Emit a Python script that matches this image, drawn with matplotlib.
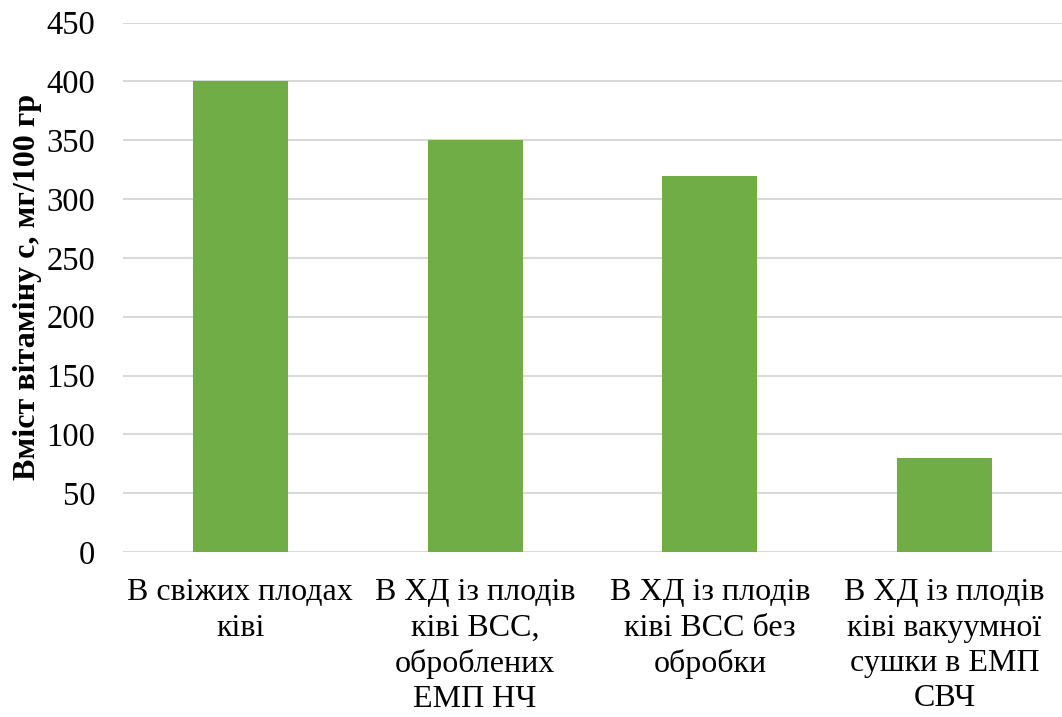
import matplotlib.pyplot as plt

plt.rcParams['font.family'] = ['Liberation Serif', 'DejaVu Serif']

categories = [
    "В свіжих плодах\nківі",
    "В ХД із плодів\nківі ВСС,\nоброблених\nЕМП НЧ",
    "В ХД із плодів\nківі ВСС без\nобробки",
    "В ХД із плодів\nківі вакуумної\nсушки в ЕМП\nСВЧ",
]
vitamin_c = [400, 350, 320, 80]
y_ticks = [0, 50, 100, 150, 200, 250, 300, 350, 400, 450]

fig = plt.figure(figsize=(10.62, 7.17), dpi=100)
ax = fig.add_axes([0.1158, 0.2301, 0.8842, 0.7384])

x = range(len(categories))
ax.bar(x, vitamin_c, width=0.404, color="#70AD47", zorder=3)

ax.set_xlim(-0.5, len(categories) - 0.5)
ax.set_ylim(0, 450)
ax.set_yticks(y_ticks)
ax.set_xticks(list(x))
ax.set_xticklabels(categories, fontsize=23, linespacing=1.28)
ax.tick_params(axis="y", labelsize=23.5, length=0, pad=20)
ax.tick_params(axis="x", length=0, pad=19)

ax.grid(axis="y", color="#D9D9D9", linewidth=1.5, zorder=0)
for s in ax.spines.values():
    s.set_visible(False)

ax.set_ylabel("Вміст вітаміну с, мг/100 гр", fontsize=23, fontweight="bold")
ax.yaxis.set_label_coords(-0.086, 0.5)

fig.savefig("out.png", dpi=100)
